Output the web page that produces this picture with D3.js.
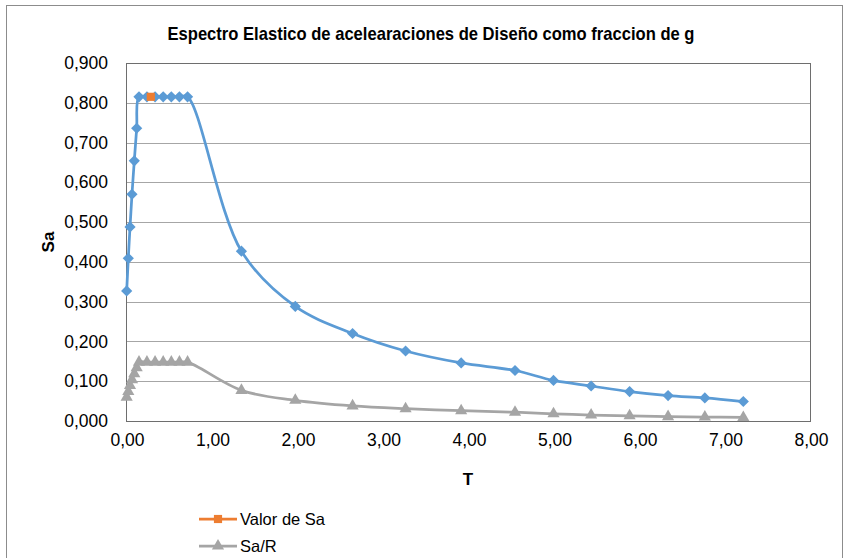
<!DOCTYPE html>
<html><head><meta charset="utf-8">
<script src="https://cdn.jsdelivr.net/npm/d3@7"></script>
<style>body{margin:0;background:#fff}svg{display:block}</style>
</head><body>
<svg id="c" width="845" height="558"></svg>
<script>
const periods = [0.008, 0.027, 0.047, 0.070, 0.097, 0.125, 0.152, 0.245, 0.34, 0.435, 0.53, 0.625, 0.72, 1.35, 1.98, 2.65, 3.27, 3.92, 4.55, 5.00, 5.44, 5.89, 6.34, 6.77, 7.22];
const saValues = [0.327, 0.409, 0.488, 0.570, 0.654, 0.736, 0.815, 0.815, 0.815, 0.815, 0.815, 0.815, 0.815, 0.427, 0.288, 0.220, 0.176, 0.146, 0.127, 0.102, 0.088, 0.074, 0.064, 0.058, 0.049];
const saRValues = [0.060, 0.074, 0.089, 0.104, 0.119, 0.134, 0.148, 0.148, 0.148, 0.148, 0.148, 0.148, 0.148, 0.077, 0.052, 0.038, 0.031, 0.026, 0.022, 0.018, 0.015, 0.013, 0.011, 0.010, 0.009];
const valorT = [0.29];
const valorSa = [0.815];
const xTicks = [0,1,2,3,4,5,6,7,8];
const yTicks = [0,0.1,0.2,0.3,0.4,0.5,0.6,0.7,0.8,0.9];
const titleText = "Espectro Elastico de acelearaciones de Diseño como fraccion de g";
const xTitle = "T", yTitle = "Sa";
const legendNames = ["Valor de Sa", "Sa/R"];

const svg = d3.select("#c");
const FONT = "'Liberation Sans', Arial, sans-serif";
const BLUE = "#5B9BD5", ORANGE = "#ED7D31", GREY = "#A5A5A5";

svg.append("rect").attr("x",6.5).attr("y",5.5).attr("width",836).attr("height",560)
  .attr("fill","#fff").attr("stroke","#8c8c8c").attr("stroke-width",1);

const x = d3.scaleLinear().domain([0,8]).range([126,810]);
const y = d3.scaleLinear().domain([0,0.9]).range([421,63]);

svg.append("g").selectAll("line").data(yTicks).join("line")
  .attr("x1",x(0)).attr("x2",x(8))
  .attr("y1",d=>Math.round(y(d))+0.5).attr("y2",d=>Math.round(y(d))+0.5)
  .attr("stroke","#a6a6a6").attr("stroke-width",1);

svg.append("rect").attr("x",x(0)+0.5).attr("y",y(0.9)+0.5)
  .attr("width",x(8)-x(0)).attr("height",y(0)-y(0.9))
  .attr("fill","none").attr("stroke","#6e6e6e").attr("stroke-width",1);

const fmtY = d => d3.format(".3f")(d).replace(".",",");
const fmtX = d => d3.format(".2f")(d).replace(".",",");

const yAxis = d3.axisLeft(y).tickValues(yTicks).tickFormat(fmtY).tickSize(0).tickPadding(0);
const gy = svg.append("g").attr("transform","translate(108,0)").call(yAxis);
gy.select(".domain").remove();
gy.selectAll("text").attr("font-family",FONT).attr("font-size","17.5px").attr("fill","#000");

const xAxis = d3.axisBottom(x).tickValues(xTicks).tickFormat(fmtX).tickSize(0).tickPadding(0);
const gx = svg.append("g").attr("transform","translate(1,434)").call(xAxis);
gx.select(".domain").remove();
gx.selectAll("text").attr("font-family",FONT).attr("font-size","17.5px").attr("fill","#000");

const tt = svg.append("text").attr("x",431).attr("y",40).attr("text-anchor","middle")
  .attr("font-family",FONT).attr("font-weight","bold").attr("font-size","19px").text(titleText);
tt.attr("textLength",527).attr("lengthAdjust","spacingAndGlyphs");

svg.append("text").attr("transform","translate(54,242) rotate(-90)").attr("text-anchor","middle")
  .attr("font-family",FONT).attr("font-weight","bold").attr("font-size","17px").text(yTitle);
svg.append("text").attr("x",468).attr("y",485).attr("text-anchor","middle")
  .attr("font-family",FONT).attr("font-weight","bold").attr("font-size","17px").text(xTitle);

const line = d3.line().curve(d3.curveCatmullRom.alpha(0.5));

const saPts = periods.map((t,i)=>[x(t),y(saValues[i])]);
const saRPts = periods.map((t,i)=>[x(t),y(saRValues[i])]);

svg.append("path").attr("d",line(saRPts)).attr("fill","none").attr("stroke",GREY).attr("stroke-width",2.75).attr("stroke-linejoin","round");
const tri = d3.symbol().type(d3.symbolTriangle).size(64);
svg.append("g").selectAll("path").data(saRPts).join("path")
  .attr("transform",d=>`translate(${d[0]},${d[1]})`).attr("d",tri()).attr("fill",GREY);

svg.append("path").attr("d",line(saPts)).attr("fill","none").attr("stroke",BLUE).attr("stroke-width",2.75).attr("stroke-linejoin","round");
const dia = d3.symbol().type(d3.symbolDiamond2).size(80);
svg.append("g").selectAll("path").data(saPts).join("path")
  .attr("transform",d=>`translate(${d[0]},${d[1]})`).attr("d",dia()).attr("fill",BLUE);

const sq = d3.symbol().type(d3.symbolSquare2).size(85);
svg.append("g").selectAll("path").data(valorT.map((t,i)=>[x(t),y(valorSa[i])])).join("path")
  .attr("transform",d=>`translate(${d[0]},${d[1]})`).attr("d",sq()).attr("fill",ORANGE);

const leg = [{name:legendNames[0], color:ORANGE, sym:sq, yy:519},{name:legendNames[1], color:GREY, sym:tri, yy:546}];
const lg = svg.append("g").selectAll("g").data(leg).join("g");
lg.append("line").attr("x1",199).attr("x2",237).attr("y1",d=>d.yy).attr("y2",d=>d.yy)
  .attr("stroke",d=>d.color).attr("stroke-width",2.75);
lg.append("path").attr("transform",d=>`translate(218,${d.yy})`).attr("d",d=>d.sym()).attr("fill",d=>d.color);
lg.append("text").attr("x",240).attr("y",d=>d.yy+6).attr("font-family",FONT).attr("font-size","16.5px").attr("fill","#000").text(d=>d.name);
</script>
</body></html>
